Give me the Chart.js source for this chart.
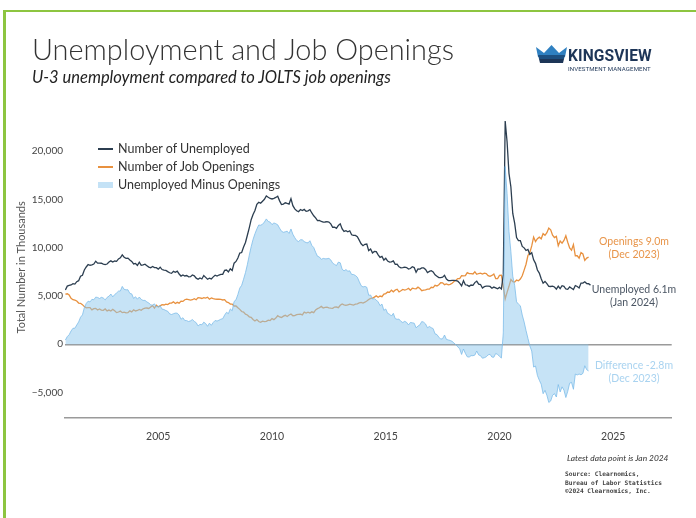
<!DOCTYPE html>
<html>
<head>
<meta charset="utf-8">
<script src="https://cdn.jsdelivr.net/npm/chart.js@4.4.1/dist/chart.umd.min.js"></script>
<style>
  html, body { margin: 0; padding: 0; background: #fff; }
  body { width: 696px; height: 518px; position: relative; overflow: hidden; font-family: 'Lato', sans-serif; }
  #frame { position: absolute; left: 3px; top: 10px; right: 0; bottom: 0; border-top: 2px solid #8dc540; border-left: 3px solid #8dc540; }
  canvas { position: absolute; left: 0; top: 0; }
  .t { position: absolute; white-space: nowrap; }
  .c { transform: translateX(-50%); text-align: center; }
  #title { left: 32px; top: 34px; font-size: 28.9px; line-height: 30px; font-weight: 300; color: #333; }
  #subtitle { left: 32px; top: 67px; font-size: 16.5px; line-height: 20px; font-style: italic; color: #222; }
  .leg { position: absolute; left: 98px; font-size: 12.5px; line-height: 14px; color: #333; }
  .leg i { display: inline-block; width: 15px; vertical-align: middle; margin-right: 5px; position: relative; top: -1px; }
  .ann { font-size: 10.5px; line-height: 12.5px; }
  #foot1 { left: 567px; top: 453px; font-size: 8.4px; font-style: italic; color: #333; }
  #foot2 { left: 565px; top: 470px; font-family: 'DejaVu Sans Mono', monospace; font-weight: 600; font-size: 6.2px; line-height: 8.7px; color: #444; }
  #logo { position: absolute; left: 536px; top: 45px; }
  #kv { left: 568px; top: 48px; font-family: Roboto, sans-serif; font-weight: 700; font-size: 15.6px; line-height: 16px; color: #1d3557; letter-spacing: 0.1px; }
  #kv2 { left: 568px; top: 64.5px; font-family: Roboto, sans-serif; font-size: 6.1px; line-height: 7px; color: #1d3557; letter-spacing: 0.1px; }
</style>
</head>
<body>
<div id="frame"></div>
<canvas id="chart" width="696" height="518"></canvas>

<div id="title" class="t">Unemployment and Job Openings</div>
<div id="subtitle" class="t">U-3 unemployment compared to JOLTS job openings</div>

<svg id="logo" width="31" height="19" viewBox="0 0 31 19">
  <polygon points="0,2 8,8 15.5,0 23,8 31,2 29,12 2,12" fill="#2f80c1"/>
  <polygon points="2,10 29,10 28,14 3,14" fill="#1d4f80"/>
  <polygon points="3,14 28,14 27,18 4,18" fill="#1d3557"/>
</svg>
<div id="kv" class="t">KINGSVIEW</div>
<div id="kv2" class="t">INVESTMENT MANAGEMENT</div>

<div class="leg" style="top:142px"><i style="height:1.5px;background:#2c3e50"></i>Number of Unemployed</div>
<div class="leg" style="top:160px"><i style="height:1.5px;background:#e8913f"></i>Number of Job Openings</div>
<div class="leg" style="top:178px"><i style="height:6px;background:#c4e2f6"></i>Unemployed Minus Openings</div>

<div class="t c ann" style="left:634px;top:235px;color:#e8954a">Openings 9.0m<br>(Dec 2023)</div>
<div class="t c ann" style="left:634px;top:283px;color:#4a5563">Unemployed 6.1m<br>(Jan 2024)</div>
<div class="t c ann" style="left:634px;top:359px;color:#a9d3f0">Difference -2.8m<br>(Dec 2023)</div>

<div id="foot1" class="t">Latest data point is Jan 2024</div>
<div id="foot2" class="t">Source: Clearnomics,<br>Bureau of Labor Statistics<br>©2024 Clearnomics, Inc.</div>

<script>
/* monthly series, first value is Dec 2000 (thousands) */
const startYear = 2000 + 11 / 12;

const unemployed = [
    5634,
    6023, 6089, 6141, 6271, 6226, 6484, 6583, 7042, 7142, 7694, 8003, 8258,
    8182, 8215, 8304, 8599, 8399, 8393, 8390, 8304, 8251, 8307, 8520, 8640,
    8520, 8618, 8588, 8842, 8957, 9266, 9011, 8896, 8921, 8732, 8576, 8317,
    8370, 8167, 8491, 8170, 8212, 8286, 8136, 7990, 7927, 8061, 7932, 7934,
    7784, 7980, 7737, 7672, 7651, 7524, 7406, 7345, 7553, 7453, 7566, 7279,
    7064, 7184, 7072, 7120, 6980, 7001, 7175, 7091, 6847, 6727, 6872, 6762,
    7116, 6927, 6731, 6850, 6766, 6979, 7149, 7067, 7170, 7237, 7240, 7645,
    7685, 7497, 7822, 7637, 8395, 8575, 8937, 9438, 9494, 10074, 10538, 11286,
    12058, 12898, 13426, 13853, 14499, 14707, 14601, 14814, 15009, 15352, 15219, 15098,
    15046, 15113, 15202, 15325, 14849, 14474, 14512, 14648, 14579, 14516, 15081, 14348,
    14013, 13820, 13737, 13957, 13855, 13962, 13763, 13818, 13948, 13594, 13302, 13093,
    12797, 12813, 12713, 12646, 12660, 12692, 12656, 12471, 12115, 12124, 12005, 12298,
    12471, 11950, 11689, 11760, 11654, 11751, 11335, 11279, 11270, 11136, 10787, 10404,
    10202, 10349, 10380, 9702, 9859, 9460, 9608, 9599, 9262, 8990, 9090, 8717,
    8903, 8610, 8504, 8526, 8640, 8268, 8285, 8022, 7915, 7927, 7995, 7940,
    7797, 7844, 8026, 7942, 7446, 7796, 7784, 7906, 7905, 7746, 7413, 7551,
    7627, 7491, 7185, 7043, 6904, 6911, 6945, 7132, 6760, 6598, 6600, 6616,
    6625, 6584, 6533, 6334, 6047, 6586, 6161, 6120, 5996, 6135, 6096, 6385,
    6541, 6227, 6190, 5831, 5972, 6011, 6016, 5991, 5806, 5922, 5846, 5742,
    5892, 5727, 7185, 23109, 20975, 17697, 16308, 13542, 12535, 11049, 10728, 10736,
    10130, 9985, 9711, 9812, 9316, 9484, 8738, 8380, 7693, 7373, 6786, 6329,
    6509, 6275, 6006, 5981, 6021, 5927, 5711, 6027, 5754, 6060, 5998, 5722,
    5694, 5938, 5798, 5658, 6085, 5988, 5837, 6339, 6335, 6468, 6291, 6268,
    6124
];

const openings = [
    5200,
    5230, 5097, 4762, 4615, 4564, 4487, 4270, 4240, 4103, 3903, 3777, 3796,
    3800, 3563, 3692, 3718, 3550, 3652, 3531, 3516, 3656, 3451, 3540, 3438,
    3613, 3471, 3280, 3341, 3439, 3274, 3323, 3260, 3274, 3465, 3360, 3573,
    3448, 3499, 3600, 3525, 3671, 3739, 3754, 3706, 3851, 4001, 3744, 4051,
    3864, 3982, 4096, 4068, 4158, 4106, 4256, 4262, 4390, 4224, 4344, 4254,
    4468, 4437, 4610, 4671, 4624, 4576, 4614, 4720, 4611, 4832, 4810, 4742,
    4825, 4779, 4867, 4663, 4798, 4718, 4685, 4662, 4679, 4638, 4588, 4623,
    4378, 4322, 4159, 4165, 3962, 3970, 3780, 3617, 3389, 3332, 3113, 3032,
    2846, 2798, 2568, 2407, 2560, 2356, 2276, 2387, 2350, 2374, 2498, 2454,
    2655, 2552, 2716, 2956, 2828, 2773, 2916, 3002, 2871, 3039, 3143, 2956,
    2972, 3072, 3106, 3130, 3042, 3328, 3234, 3319, 3228, 3359, 3279, 3562,
    3687, 3776, 3923, 3753, 3813, 3837, 3759, 3734, 3715, 3854, 3857, 3791,
    4039, 4178, 4088, 4022, 4089, 4148, 4102, 4059, 4149, 4190, 4286, 4327,
    4269, 4356, 4476, 4629, 4756, 4776, 4883, 5014, 4876, 4994, 4928, 5199,
    5246, 5412, 5382, 5603, 5436, 5612, 5698, 5418, 5542, 5675, 5618, 5670,
    5795, 5587, 5805, 5757, 5741, 5913, 5773, 5551, 5618, 5640, 5708, 5709,
    5905, 5872, 6101, 6039, 6168, 6372, 6363, 6175, 6249, 6149, 6206, 6312,
    6502, 6633, 6799, 6807, 7099, 7076, 7104, 7419, 7324, 7310, 7279, 7507,
    7243, 7326, 7372, 7273, 7364, 7311, 7111, 7030, 7130, 7267, 6800, 6799,
    7139, 7153, 5997, 4700, 5371, 6001, 6697, 6493, 6436, 6652, 6572, 6752,
    7099, 7678, 8288, 9193, 9483, 10185, 11098, 10629, 10926, 11091, 10922, 11448,
    11283, 11549, 12027, 11855, 11303, 11040, 11170, 10198, 10687, 10471, 10746, 11234,
    10563, 9974, 9745, 10320, 9165, 9165, 8920, 9497, 9350, 8690, 8925, 9026
];

const yearTicks = [2005, 2010, 2015, 2020, 2025];
const valueTicks = [-5000, 0, 5000, 10000, 15000, 20000];

// the shaded series is unemployed minus openings, month by month
const difference = openings.map((v, i) => unemployed[i] - v);

const toPoints = arr => arr.map((v, i) => ({ x: startYear + i / 12, y: v }));

Chart.defaults.font.family = "'Lato', sans-serif";
Chart.defaults.color = '#444';

new Chart(document.getElementById('chart'), {
    type: 'line',
    data: {
        datasets: [
            {
                label: 'Unemployed Minus Openings',
                data: toPoints(difference),
                fill: 'origin',
                backgroundColor: 'rgba(141,199,237,0.5)',
                borderColor: 'rgba(120,186,232,0.75)',
                borderWidth: 1,
                pointRadius: 0,
                order: 0,
            },
            {
                label: 'Number of Unemployed',
                data: toPoints(unemployed),
                borderColor: '#2c3e50',
                borderWidth: 1.3,
                pointRadius: 0,
                fill: false,
                order: 1,
            },
            {
                label: 'Number of Job Openings',
                data: toPoints(openings),
                borderColor: '#e8913f',
                borderWidth: 1.3,
                pointRadius: 0,
                fill: false,
                order: 2,
            },
        ],
    },
    options: {
        responsive: false,
        animation: false,
        devicePixelRatio: 1,
        layout: { padding: { top: 117.3, right: 24.3, bottom: 0, left: 0 } },
        plugins: { legend: { display: false }, tooltip: { enabled: false } },
        scales: {
            x: {
                type: 'linear',
                min: 2000.9,
                max: 2027.57,
                afterFit: s => { s.height = 100.7; },
                afterBuildTicks: s => { s.ticks = yearTicks.map(v => ({ value: v })); },
                ticks: { padding: 5, font: { size: 10.5 }, color: '#444', callback: v => String(v) },
                grid: { display: false },
                border: { display: true, color: '#9a9a9a', width: 1.5 },
            },
            y: {
                min: -7560,
                max: 23500,
                afterFit: s => { s.width = 65; },
                afterBuildTicks: s => { s.ticks = valueTicks.map(v => ({ value: v })); },
                ticks: {
                    padding: 2,
                    font: { size: 10 },
                    color: '#444',
                    callback: v => (v < 0 ? '\u2212' : '') + Math.abs(v).toLocaleString('en-US'),
                },
                grid: {
                    drawTicks: false,
                    color: c => (c.tick && c.tick.value === 0 ? '#9a9a9a' : 'rgba(0,0,0,0)'),
                    lineWidth: c => (c.tick && c.tick.value === 0 ? 1.5 : 0),
                },
                border: { display: false },
                title: {
                    display: true,
                    text: 'Total Number in Thousands',
                    font: { size: 11 },
                    color: '#555',
                    padding: { top: 15, bottom: 0 },
                },
            },
        },
    },
});
</script>
</body>
</html>
